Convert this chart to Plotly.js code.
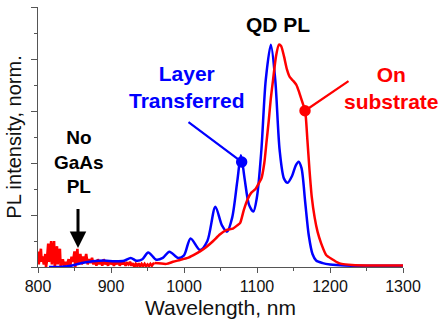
<!DOCTYPE html>
<html>
<head>
<meta charset="utf-8">
<script src="https://cdn.plot.ly/plotly-3.0.1.min.js"></script>
<style>html,body{margin:0;padding:0;background:#fff;}#chart{width:439px;height:320px;}</style>
</head>
<body>
<div id="chart"></div>
<script>
// Layer transferred (blue)
const blueWl = [815,830,845,860,875,890,905,918,927,935,943,951,962,971,980,992,1000,1009,1022,1032,1043,1052,1059,1066,1073,1078,1083,1089,1095,1100,1106,1112,1119,1125,1131,1137,1142,1148,1153,1157,1161,1166,1171,1176,1181,1190,1200,1220,1250,1300];
const blueI  = [0.0,0.0,0.005,0.015,0.022,0.025,0.022,0.024,0.035,0.024,0.03,0.056,0.028,0.035,0.059,0.035,0.045,0.110,0.065,0.10,0.232,0.16,0.136,0.19,0.33,0.43,0.34,0.24,0.213,0.27,0.45,0.72,0.855,0.72,0.45,0.34,0.324,0.35,0.39,0.405,0.38,0.25,0.12,0.05,0.025,0.015,0.01,0.006,0.005,0.005];

// On substrate (red) - noisy short-wavelength part
const redNoiseWl = [800,801,802,804,805,806,808,810,811,812,814,815,816,818,819,820,822,823,824,826,827,828,830,831,832,834,836,838,840,842,844,846,848,850,851,852,854,855,856,858,860,862,864,866,868,870,872,874,876,878,880,882,884,886,888,890,892,894,896,898,900,902,904,906,908,910,912,914,916,918,920,922,924,926,928,930,932,934,936,938,940,942,944,946,948,950,952,954,956,958,960];
const redNoiseI  = [0.06,0.01,0.03,0.07,0.02,0.04,0.01,0.05,0.0,0.02,0.09,0.02,0.03,0.10,0.01,0.04,0.10,0.0,0.02,0.08,0.01,0.05,0.07,0.0,0.01,0.03,0.0,0.02,0.01,0.03,0.0,0.04,0.02,0.06,0.0,0.03,0.07,0.01,0.02,0.05,0.01,0.04,0.02,0.05,0.01,0.03,0.015,0.035,0.01,0.025,0.005,0.03,0.01,0.025,0.005,0.03,0.01,0.02,0.005,0.025,0.01,0.02,0.005,0.02,0.01,0.025,0.005,0.02,0.01,0.02,0.005,0.015,0.01,0.02,0.005,0.015,0.0,0.012,0.004,0.014,0.002,0.012,0.004,0.012,0.003,0.01,0.004,0.012,0.005,0.013,0.015];
// On substrate (red) - smooth part
const redWl = [960,976,985,994.5,1005,1013,1022,1031,1040,1049,1058,1067,1073,1077,1082,1087,1092,1098,1102,1106,1110,1113,1116,1119,1122,1126,1130,1133,1137,1141,1145,1150,1154,1158,1162,1166,1169,1172,1175,1179,1183,1188,1195,1203,1210,1216,1230,1260,1300];
const redI  = [0.015,0.012,0.02,0.027,0.035,0.046,0.06,0.078,0.10,0.125,0.142,0.148,0.16,0.17,0.22,0.26,0.285,0.30,0.32,0.34,0.40,0.48,0.56,0.65,0.72,0.81,0.855,0.85,0.81,0.76,0.73,0.715,0.70,0.67,0.635,0.60,0.49,0.37,0.27,0.19,0.135,0.09,0.045,0.03,0.018,0.012,0.008,0.006,0.006];

const xTickVals = [800,900,1000,1100,1200,1300];
const xTickText = ['800','900','1000','1100','1200','1300'];

const BLUE = '#0000ff', RED = '#ff0000';

const traces = [
  {x: redNoiseWl, y: redNoiseI, mode:'lines', line:{color:RED, width:2.6, shape:'linear'}, showlegend:false, hoverinfo:'skip'},
  {x: blueWl, y: blueI, mode:'lines', line:{color:BLUE, width:2.5, shape:'spline', smoothing:0.8}, showlegend:false, hoverinfo:'skip'},
  {x: redWl, y: redI, mode:'lines', line:{color:RED, width:2.5, shape:'spline', smoothing:0.6}, showlegend:false, hoverinfo:'skip'}
];

const boldFont = (c, s) => ({family:'Liberation Sans, Arial, sans-serif', size:s, color:c, weight:'bold'});

const layout = {
  width:439, height:320,
  margin:{l:38, r:36, t:7, b:53, pad:0},
  paper_bgcolor:'#fff', plot_bgcolor:'#fff',
  font:{family:'Liberation Sans, Arial, sans-serif', color:'#000'},
  xaxis:{
    range:[800,1300], showgrid:false, zeroline:false,
    showline:true, linecolor:'#555', linewidth:1,
    ticks:'outside', ticklen:5, tickcolor:'#555',
    tickvals:xTickVals, ticktext:xTickText,
    tickfont:{size:16, color:'#111'},
    minor:{dtick:50, ticks:'outside', ticklen:3, tickcolor:'#555'},
    title:{text:'Wavelength, nm', font:{size:21, color:'#111'}, standoff:6}
  },
  yaxis:{
    range:[0,1], showgrid:false, zeroline:false,
    showline:true, linecolor:'#555', linewidth:1,
    ticks:'outside', ticklen:6, tickcolor:'#555', dtick:0.2, tick0:0,
    showticklabels:false,
    minor:{dtick:0.1, ticks:'outside', ticklen:3, tickcolor:'#555'},
    title:{text:'PL intensity, norm.', font:{size:20, color:'#111'}, standoff:4}
  },
  annotations:[
    {x:1128.8, y:0.931, xref:'x', yref:'y', text:'<b>QD PL</b>', showarrow:false, font:boldFont('#000',21)},
    {x:1004, y:0.694, xref:'x', yref:'y', text:'<b>Layer<br>Transferred</b>', showarrow:false, font:boldFont(BLUE,21)},
    {x:1283.6, y:0.690, xref:'x', yref:'y', text:'<b>On<br>substrate</b>', showarrow:false, font:boldFont(RED,21)},
    {x:856, y:0.402, xref:'x', yref:'y', text:'<b>No<br>GaAs<br>PL</b>', showarrow:false, font:boldFont('#000',19)},
    {x:1079, y:0.404, xref:'x', yref:'y', axref:'x', ayref:'y', ax:1004.1, ay:0.5615, text:' ', font:{size:1},
     showarrow:true, arrowhead:6, arrowsize:1.3, arrowwidth:2.2, arrowcolor:BLUE, standoff:-3},
    {x:1165.75, y:0.601, xref:'x', yref:'y', axref:'x', ayref:'y', ax:1227.4, ay:0.719, text:' ', font:{size:1},
     showarrow:true, arrowhead:6, arrowsize:1.3, arrowwidth:2.2, arrowcolor:RED, standoff:-3},
    {x:854.8, y:0.073, xref:'x', yref:'y', axref:'x', ayref:'y', ax:854.8, ay:0.231, text:' ', font:{size:1},
     showarrow:true, arrowhead:2, arrowsize:1.1, arrowwidth:3, arrowcolor:'#000'}
  ]
};

Plotly.newPlot('chart', traces, layout, {staticPlot:true, displayModeBar:false});
</script>
</body>
</html>
